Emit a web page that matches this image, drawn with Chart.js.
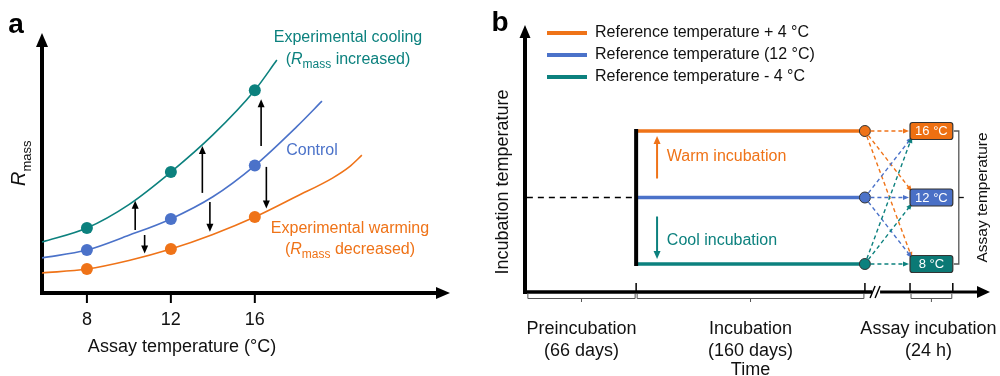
<!DOCTYPE html>
<html><head><meta charset="utf-8">
<script src="https://cdn.jsdelivr.net/npm/chart.js@4.4.1/dist/chart.umd.min.js"></script>
<style>
html,body{margin:0;padding:0;background:#fff;}
#wrap{position:relative;width:1000px;height:376px;overflow:hidden;}
#ca{position:absolute;left:0;top:0;width:480px;height:376px;}
#cb{position:absolute;left:480px;top:0;width:520px;height:376px;}
</style></head><body>
<div id="wrap"><div id="ca"><canvas id="a" width="480" height="376"></canvas></div><div id="cb"><canvas id="b" width="520" height="376"></canvas></div></div>
<script>
// ---------- Panel a data ----------
const assayTicks = [8, 12, 16];
const coolCurveX = [5.86, 8, 10, 12, 14, 16, 17.05];
const coolCurveY = [19.6, 25, 34, 46.5, 60.8, 78, 89.6];
const controlCurveX = [5.86, 8, 10, 12, 14, 16, 18, 19.2];
const controlCurveY = [13.5, 16.5, 22.2, 28.5, 37, 49, 64, 73.8];
const warmCurveX = [5.86, 8, 10, 12, 14, 16, 18, 19.7, 20.5, 21.1];
const warmCurveY = [7.7, 9.2, 12.5, 16.9, 22.5, 29.2, 37.2, 44.2, 48.5, 53];
const coolPoints = [25, 46.5, 78];
const controlPoints = [16.5, 28.5, 49];
const warmPoints = [9.2, 16.9, 29.2];
const shiftArrowX = [10.3, 10.75, 13.5, 13.86, 16.3, 16.55];
const shiftArrowFrom = [24.2, 22.3, 38.5, 35, 56.5, 48.5];
const shiftArrowTo = [35.5, 15.2, 56.5, 23.6, 74.5, 32.5];

// ---------- Panel b data ----------
const seriesNames = ['Reference temperature + 4 °C', 'Reference temperature (12 °C)', 'Reference temperature - 4 °C'];
const incubationTemps = [16, 12, 8];
const referenceTemp = 12;
const assayTemps = [16, 12, 8];
const phaseNames = ['Preincubation', 'Incubation', 'Assay incubation'];
const phaseDurations = ['(66 days)', '(160 days)', '(24 h)'];
const phaseStart = [0.4, 23.9, 82.8];
const phaseEnd = [23.9, 73.1, 92.0];

const FONT = "'Liberation Sans', Arial, Helvetica, sans-serif";
const ORANGE = '#EF7318', BLUE = '#4B72C9', TEAL = '#0C817E';
const seriesColors = [ORANGE, BLUE, TEAL];
const boxColors = ['#EE7012', '#4A70C6', '#0B7975'];

function head(ctx, x, y, ang, len, w, color) {
  ctx.save(); ctx.translate(x, y); ctx.rotate(ang);
  ctx.beginPath(); ctx.moveTo(0, 0); ctx.lineTo(-len, -w / 2); ctx.lineTo(-len, w / 2); ctx.closePath();
  ctx.fillStyle = color; ctx.fill(); ctx.restore();
}
function subLabel(ctx, cx, cy, pre, post, size, color, align) {
  const f = size + 'px ' + FONT, fi = 'italic ' + size + 'px ' + FONT, fs = Math.round(size * 0.72) + 'px ' + FONT;
  ctx.font = f; const w1 = ctx.measureText(pre).width;
  ctx.font = fi; const w2 = ctx.measureText('R').width;
  ctx.font = fs; const w3 = ctx.measureText('mass').width;
  ctx.font = f; const w4 = ctx.measureText(post).width;
  let x = align === 'left' ? cx : cx - (w1 + w2 + w3 + w4) / 2;
  ctx.textBaseline = 'alphabetic'; ctx.textAlign = 'left'; ctx.fillStyle = color;
  const base = cy + size * 0.36;
  ctx.font = f; ctx.fillText(pre, x, base); x += w1;
  ctx.font = fi; ctx.fillText('R', x, base); x += w2;
  ctx.font = fs; ctx.fillText('mass', x, base + size * 0.28); x += w3;
  ctx.font = f; ctx.fillText(post, x, base);
}
function txt(ctx, s, x, y, size, color, align, weight) {
  ctx.font = (weight ? weight + ' ' : '') + size + 'px ' + FONT;
  ctx.fillStyle = color; ctx.textAlign = align || 'center'; ctx.textBaseline = 'middle';
  ctx.fillText(s, x, y);
}
const xy = (xs, ys) => xs.map((v, i) => ({ x: v, y: ys[i] }));

// ---------- Panel a ----------
const panelA = {
  id: 'panelA',
  beforeDatasetsDraw(chart) {
    const { ctx, scales: { x, y } } = chart;
    const x0 = x.left, y0 = y.bottom;
    ctx.save();
    ctx.strokeStyle = '#000'; ctx.lineWidth = 4;
    ctx.beginPath(); ctx.moveTo(x0, y0 + 2); ctx.lineTo(x0, y.top + 12); ctx.stroke();
    ctx.beginPath(); ctx.moveTo(x0 - 2, y0); ctx.lineTo(x.right - 12, y0); ctx.stroke();
    head(ctx, x0, y.top, -Math.PI / 2, 14, 12, '#000');
    head(ctx, x.right, y0, 0, 14, 12, '#000');
    ctx.lineWidth = 2;
    assayTicks.forEach(v => {
      const px = x.getPixelForValue(v);
      ctx.beginPath(); ctx.moveTo(px, y0 + 2); ctx.lineTo(px, y0 + 10); ctx.stroke();
      txt(ctx, String(v), px, y0 + 27, 18, '#111');
    });
    txt(ctx, 'Assay temperature (°C)', 182, y0 + 54, 18, '#111');
    // y title
    ctx.save(); ctx.translate(25, 186); ctx.rotate(-Math.PI / 2);
    ctx.font = 'italic 20px ' + FONT; ctx.fillStyle = '#111'; ctx.textAlign = 'left'; ctx.textBaseline = 'alphabetic';
    ctx.fillText('R', 0, 0); const rw = ctx.measureText('R').width;
    ctx.font = '13px ' + FONT; ctx.fillText('mass', rw, 6);
    ctx.restore();
    txt(ctx, 'a', 16, 25, 28, '#000', 'center', 'bold');
    ctx.restore();
  },
  afterDatasetsDraw(chart) {
    const { ctx, scales: { x, y } } = chart;
    ctx.save();
    ctx.strokeStyle = '#000'; ctx.lineWidth = 1.6;
    shiftArrowX.forEach((v, i) => {
      const px = x.getPixelForValue(v), p1 = y.getPixelForValue(shiftArrowFrom[i]), p2 = y.getPixelForValue(shiftArrowTo[i]);
      const dir = p2 < p1 ? -1 : 1;
      ctx.beginPath(); ctx.moveTo(px, p1); ctx.lineTo(px, p2 - dir * 7); ctx.stroke();
      head(ctx, px, p2, dir < 0 ? -Math.PI / 2 : Math.PI / 2, 8, 7, '#000');
    });
    txt(ctx, 'Experimental cooling', 348, 38, 16, TEAL);
    subLabel(ctx, 348, 58, '(', ' increased)', 16, TEAL);
    txt(ctx, 'Control', 312, 151, 16, BLUE);
    txt(ctx, 'Experimental warming', 350, 229, 16, ORANGE);
    subLabel(ctx, 350, 248, '(', ' decreased)', 16, ORANGE);
    ctx.restore();
  }
};

const curveStyle = { pointRadius: 0, borderWidth: 1.6, tension: 0.4, cubicInterpolationMode: 'monotone', fill: false };
const dotStyle = { showLine: false, pointRadius: 6, pointBorderWidth: 0 };
new Chart(document.getElementById('a'), {
  type: 'line',
  data: {
    datasets: [
      { ...curveStyle, label: 'Experimental cooling', data: xy(coolCurveX, coolCurveY), borderColor: TEAL },
      { ...curveStyle, label: 'Control', data: xy(controlCurveX, controlCurveY), borderColor: BLUE },
      { ...curveStyle, label: 'Experimental warming', data: xy(warmCurveX, warmCurveY), borderColor: ORANGE },
      { ...dotStyle, label: 'cool points', data: xy(assayTicks, coolPoints), pointBackgroundColor: TEAL, borderColor: TEAL },
      { ...dotStyle, label: 'control points', data: xy(assayTicks, controlPoints), pointBackgroundColor: BLUE, borderColor: BLUE },
      { ...dotStyle, label: 'warm points', data: xy(assayTicks, warmPoints), pointBackgroundColor: ORANGE, borderColor: ORANGE }
    ]
  },
  options: {
    responsive: false, animation: false, devicePixelRatio: 1,
    layout: { padding: { left: 42, right: 30, top: 33, bottom: 83 } },
    plugins: { legend: { display: false }, tooltip: { enabled: false } },
    scales: {
      x: { type: 'linear', min: 5.86, max: 25.3, display: false },
      y: { type: 'linear', min: 0, max: 100, display: false }
    }
  },
  plugins: [panelA]
});

// ---------- Panel b ----------
const panelB = {
  id: 'panelB',
  beforeDatasetsDraw(chart) {
    const { ctx, scales: { x, y } } = chart;
    const x0 = x.left, y0 = y.bottom;
    ctx.save();
    ctx.strokeStyle = '#000'; ctx.lineWidth = 4;
    ctx.beginPath(); ctx.moveTo(x0, y0 + 2); ctx.lineTo(x0, y.top + 11); ctx.stroke();
    head(ctx, x0, y.top, -Math.PI / 2, 13, 11, '#000');
    const brk = x.getPixelForValue(75.5);
    ctx.lineWidth = 3.5;
    ctx.beginPath(); ctx.moveTo(x0 - 2, y0); ctx.lineTo(brk - 4, y0); ctx.stroke();
    ctx.lineWidth = 3;
    ctx.beginPath(); ctx.moveTo(brk + 4, y0); ctx.lineTo(x.right - 12, y0); ctx.stroke();
    head(ctx, x.right, y0, 0, 13, 12, '#000');
    ctx.lineWidth = 1.4;
    ctx.beginPath(); ctx.moveTo(brk - 6, y0 + 6); ctx.lineTo(brk - 1, y0 - 6); ctx.stroke();
    ctx.beginPath(); ctx.moveTo(brk - 1, y0 + 6); ctx.lineTo(brk + 4, y0 - 6); ctx.stroke();
    // ticks above axis
    ctx.lineWidth = 1.5;
    [phaseStart[1], phaseEnd[1], phaseStart[2], phaseEnd[2]].forEach(v => {
      const px = x.getPixelForValue(v);
      ctx.beginPath(); ctx.moveTo(px, y0 - 9); ctx.lineTo(px, y0); ctx.stroke();
    });
    // brackets below axis
    ctx.strokeStyle = '#555'; ctx.lineWidth = 1;
    phaseNames.forEach((name, i) => {
      const a = x.getPixelForValue(phaseStart[i]) + 1, b = x.getPixelForValue(phaseEnd[i]) - 1, c = (a + b) / 2;
      ctx.beginPath(); ctx.moveTo(a, y0 + 2); ctx.lineTo(a, y0 + 6.5); ctx.lineTo(b, y0 + 6.5); ctx.lineTo(b, y0 + 2); ctx.stroke();
      ctx.beginPath(); ctx.moveTo(c, y0 + 6.5); ctx.lineTo(c, y0 + 10); ctx.stroke();
      const tc = i === 2 ? c - 3 : c;
      txt(ctx, name, tc, y0 + 37, 18, '#111');
      txt(ctx, phaseDurations[i], tc, y0 + 59, 18, '#111');
    });
    txt(ctx, 'Time', x.getPixelForValue((phaseStart[1] + phaseEnd[1]) / 2), y0 + 78, 18, '#111');
    // y title
    ctx.save(); ctx.translate(23, 182); ctx.rotate(-Math.PI / 2);
    txt(ctx, 'Incubation temperature', 0, 0, 18, '#111');
    ctx.restore();
    txt(ctx, 'b', 20, 23, 28, '#000', 'center', 'bold');
    // legend
    seriesNames.forEach((s, i) => {
      const ly = 33 + i * 22;
      ctx.strokeStyle = seriesColors[i]; ctx.lineWidth = 4;
      ctx.beginPath(); ctx.moveTo(67, ly); ctx.lineTo(107, ly); ctx.stroke();
      txt(ctx, s, 115, ly, 16, '#111', 'left');
    });
    ctx.restore();
  },
  afterDatasetsDraw(chart) {
    const { ctx, scales: { x, y } } = chart;
    ctx.save();
    const xs = x.getPixelForValue(phaseStart[1]);
    ctx.strokeStyle = '#000'; ctx.lineWidth = 4;
    ctx.beginPath(); ctx.moveTo(xs, y.getPixelForValue(Math.max(...incubationTemps)) - 2);
    ctx.lineTo(xs, y.getPixelForValue(Math.min(...incubationTemps)) + 2); ctx.stroke();
    // warm / cool annotations
    const ax = x.getPixelForValue(28.4), tx = x.getPixelForValue(30.5);
    const yw = y.getPixelForValue(incubationTemps[0]), yr = y.getPixelForValue(referenceTemp), yc = y.getPixelForValue(incubationTemps[2]);
    ctx.strokeStyle = ORANGE; ctx.lineWidth = 2;
    ctx.beginPath(); ctx.moveTo(ax, yr - 19); ctx.lineTo(ax, yw + 12); ctx.stroke();
    head(ctx, ax, yw + 5, -Math.PI / 2, 8, 7, ORANGE);
    txt(ctx, 'Warm incubation', tx, yw + 26, 16, ORANGE, 'left');
    ctx.strokeStyle = TEAL;
    ctx.beginPath(); ctx.moveTo(ax, yr + 19); ctx.lineTo(ax, yc - 12); ctx.stroke();
    head(ctx, ax, yc - 5, Math.PI / 2, 8, 7, TEAL);
    txt(ctx, 'Cool incubation', tx, yc - 23, 16, TEAL, 'left');
    // dashed assay arrows
    const cx = x.getPixelForValue(phaseEnd[1]), bl = x.getPixelForValue(phaseStart[2]), br = x.getPixelForValue(phaseEnd[2]);
    ctx.lineWidth = 1.4; ctx.setLineDash([4, 3]);
    incubationTemps.forEach((t, i) => {
      const sy = y.getPixelForValue(t);
      assayTemps.forEach(a => {
        const ty = y.getPixelForValue(a);
        let ex, ey;
        if (a === t) { ex = bl - 1; ey = ty; } else { ex = bl + 2; ey = ty + (a < t ? -6 : 6); }
        const ang = Math.atan2(ey - sy, ex - cx);
        const sx0 = cx + 5.5 * Math.cos(ang), sy0 = sy + 5.5 * Math.sin(ang);
        ctx.strokeStyle = seriesColors[i];
        ctx.beginPath(); ctx.moveTo(sx0, sy0); ctx.lineTo(ex - 5 * Math.cos(ang), ey - 5 * Math.sin(ang)); ctx.stroke();
        head(ctx, ex, ey, ang, 6, 5, seriesColors[i]);
      });
    });
    ctx.setLineDash([]);
    // boxes
    assayTemps.forEach((a, i) => {
      const cy = y.getPixelForValue(a);
      ctx.beginPath(); ctx.roundRect(bl, cy - 8.5, br - bl, 17, 2.5);
      ctx.fillStyle = boxColors[i]; ctx.fill();
      ctx.strokeStyle = '#333'; ctx.lineWidth = 1.2; ctx.stroke();
      txt(ctx, a + ' °C', (bl + br) / 2, cy + 0.5, 13, '#fff');
    });
    // bracket
    const y1 = y.getPixelForValue(Math.max(...assayTemps)), y2 = y.getPixelForValue(Math.min(...assayTemps)), ym = y.getPixelForValue(referenceTemp);
    const bx = br + 6;
    ctx.strokeStyle = '#555'; ctx.lineWidth = 1.3;
    ctx.beginPath(); ctx.moveTo(br + 1, y1); ctx.lineTo(bx, y1); ctx.lineTo(bx, y2); ctx.lineTo(br + 1, y2); ctx.stroke();
    ctx.strokeStyle = '#111';
    ctx.beginPath(); ctx.moveTo(bx, ym); ctx.lineTo(bx + 5, ym); ctx.stroke();
    ctx.save(); ctx.translate(bx + 24, ym); ctx.rotate(-Math.PI / 2);
    txt(ctx, 'Assay temperature', 0, 0, 15.5, '#111');
    ctx.restore();
    ctx.restore();
  }
};

const incDatasets = incubationTemps.map((t, i) => ({
  label: seriesNames[i],
  data: [{ x: phaseStart[1], y: t }, { x: phaseEnd[1], y: t }],
  borderColor: seriesColors[i], borderWidth: 3.5,
  pointRadius: [0, 5.5], pointBackgroundColor: seriesColors[i], pointBorderColor: '#333', pointBorderWidth: 1
}));
new Chart(document.getElementById('b'), {
  type: 'line',
  data: {
    datasets: [
      { label: 'Preincubation', data: [{ x: phaseStart[0], y: referenceTemp }, { x: phaseEnd[0], y: referenceTemp }],
        borderColor: '#000', borderWidth: 1.5, borderDash: [6, 5], pointRadius: 0 },
      ...incDatasets
    ]
  },
  options: {
    responsive: false, animation: false, devicePixelRatio: 1,
    layout: { padding: { left: 45, right: 10, top: 25, bottom: 84 } },
    plugins: { legend: { display: false }, tooltip: { enabled: false } },
    scales: {
      x: { type: 'linear', min: 0, max: 100, display: false },
      y: { type: 'linear', min: 6.316, max: 22.376, display: false }
    }
  },
  plugins: [panelB]
});
</script>
</body></html>
